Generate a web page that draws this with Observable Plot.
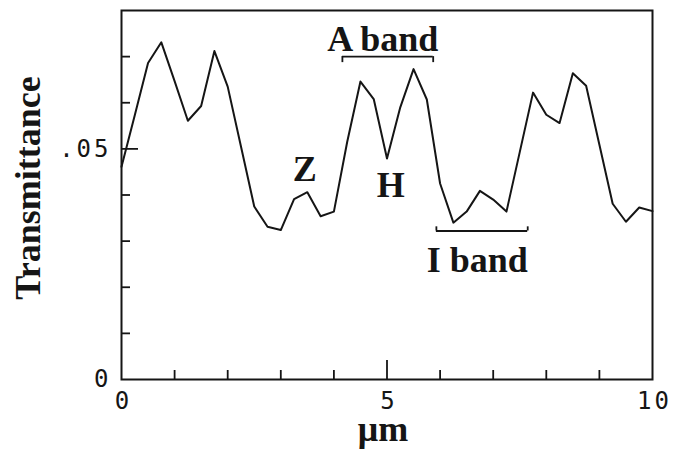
<!DOCTYPE html>
<html><head><meta charset="utf-8">
<script src="https://cdn.jsdelivr.net/npm/d3@7"></script>
<script src="https://cdn.jsdelivr.net/npm/@observablehq/plot@0.6"></script>
<style>
html,body{margin:0;padding:0;background:#fff;}
.ticklab text{letter-spacing:3px;}
</style></head><body><div id="chart"></div>
<script>
// ---- data ----
const positionUm = [0,0.25,0.5,0.75,1,1.25,1.5,1.75,2,2.25,2.5,2.75,3,3.25,3.5,3.75,4,4.25,4.5,4.75,5,5.25,5.5,5.75,6,6.25,6.5,6.75,7,7.25,7.5,7.75,8,8.25,8.5,8.75,9,9.25,9.5,9.75,10];
const transmittance = [0.0461,0.0573,0.0686,0.0731,0.0647,0.0561,0.0593,0.0712,0.0635,0.0505,0.0375,0.0331,0.0324,0.0391,0.0406,0.0354,0.0364,0.0515,0.0646,0.0608,0.0479,0.0590,0.0673,0.0607,0.0425,0.0340,0.0364,0.0409,0.0390,0.0364,0.0493,0.0622,0.0574,0.0556,0.0664,0.0637,0.0509,0.0381,0.0342,0.0373,0.0365];

const xTickValues = [0, 5, 10];
const xTickLabels = ["0", "5", "10"];
const xMinorTicks = [1, 2, 3, 4, 6, 7, 8, 9];
const xMajorInner = [5];
const yTickValues = [0, 0.05];
const yTickLabels = ["0", ".05"];
const yMinorTicks = [0.01, 0.02, 0.03, 0.04, 0.06, 0.07];
const yMajorInner = [0.05];

const xLabel = "μm";
const yLabel = "Transmittance";

const annotationText = ["A band", "Z", "H", "I band"];
const annotationX = [4.92, 3.45, 5.07, 6.70];
const annotationY = [0.0737, 0.0455, 0.0421, 0.0258];

const bracketStart = [4.16, 5.93];
const bracketEnd = [5.87, 7.65];
const bracketLevel = [0.0700, 0.0322];
const bracketTickEnd = [0.0687, 0.0331];

// ---- chart ----
const ink = "#151515";
const serif = "'Liberation Serif', 'Times New Roman', serif";
const mono = "'DejaVu Sans Mono', monospace";

const series = positionUm.map((x, i) => ({x, y: transmittance[i]}));
const annotations = annotationText.map((t, i) => ({t, x: annotationX[i], y: annotationY[i]}));
const brackets = bracketStart.map((s, i) => ({x1: s, x2: bracketEnd[i], y: bracketLevel[i], yEnd: bracketTickEnd[i]}));
const bracketEnds = brackets.flatMap(b => [{x: b.x1, y1: b.y, y2: b.yEnd}, {x: b.x2, y1: b.y, y2: b.yEnd}]);

const frameW = 684 - 121 - 32;
const frameH = 450 - 10 - 71;

const chart = Plot.plot({
  width: 684,
  height: 450,
  marginLeft: 121,
  marginRight: 32,
  marginTop: 10,
  marginBottom: 71,
  x: {domain: [0, 10], axis: null},
  y: {domain: [0, 0.08], axis: null},
  style: {background: "#fff", color: ink},
  marks: [
    Plot.frame({stroke: ink, strokeWidth: 2}),
    Plot.ruleX(xMinorTicks, {x: d => d, insetTop: frameH - 9, stroke: ink, strokeWidth: 1.8}),
    Plot.ruleX(xMajorInner, {x: d => d, insetTop: frameH - 19, stroke: ink, strokeWidth: 1.8}),
    Plot.ruleY(yMinorTicks, {y: d => d, insetRight: frameW - 9, stroke: ink, strokeWidth: 1.8}),
    Plot.ruleY(yMajorInner, {y: d => d, insetRight: frameW - 17, stroke: ink, strokeWidth: 1.8}),
    Plot.text(xTickValues, {x: d => d, text: (d, i) => xTickLabels[i], frameAnchor: "bottom", lineAnchor: "middle", textAnchor: "middle", dx: 2, dy: 22, fontFamily: mono, fontSize: 24, fill: ink, className: "ticklab"}),
    Plot.text(yTickValues, {y: d => d, text: (d, i) => yTickLabels[i], frameAnchor: "left", lineAnchor: "middle", textAnchor: "end", dx: -10, fontFamily: mono, fontSize: 24, fill: ink, className: "ticklab"}),
    Plot.text([xLabel], {text: d => d, frameAnchor: "bottom", lineAnchor: "middle", textAnchor: "middle", dx: -4, dy: 50, fontFamily: serif, fontWeight: "bold", fontSize: 36, fill: ink}),
    Plot.text([yLabel], {text: d => d, frameAnchor: "left", lineAnchor: "middle", textAnchor: "middle", rotate: -90, dx: -93, dy: -7, fontFamily: serif, fontWeight: "bold", fontSize: 36, fill: ink}),
    Plot.line(series, {x: "x", y: "y", stroke: ink, strokeWidth: 2}),
    Plot.ruleY(brackets, {x1: "x1", x2: "x2", y: "y", stroke: ink, strokeWidth: 1.8}),
    Plot.ruleX(bracketEnds, {x: "x", y1: "y1", y2: "y2", stroke: ink, strokeWidth: 1.8}),
    Plot.text(annotations, {x: "x", y: "y", text: "t", fontFamily: serif, fontWeight: "bold", fontSize: 36, fill: ink})
  ]
});
document.getElementById("chart").appendChild(chart);
</script>
</body></html>
